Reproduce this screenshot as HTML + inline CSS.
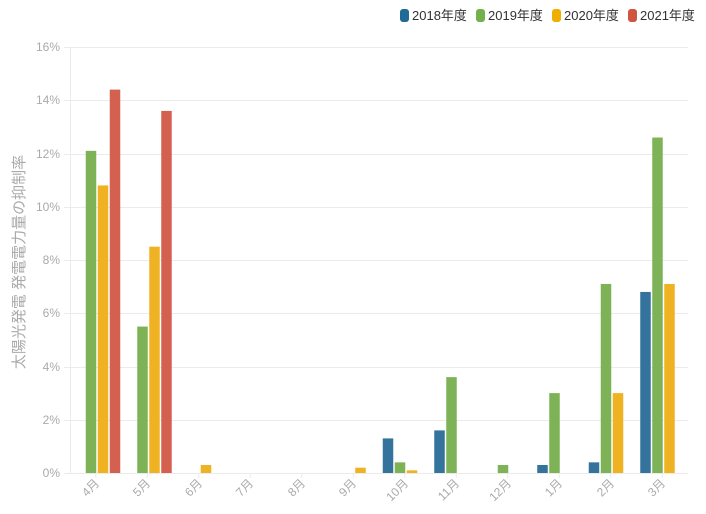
<!DOCTYPE html><html><head><meta charset="utf-8"><style>body{margin:0;background:#fff}svg{font-family:"Liberation Sans","Noto Sans CJK JP",sans-serif}</style></head><body>
<svg width="706" height="509" xmlns="http://www.w3.org/2000/svg">
<g stroke="#ebebeb" stroke-width="1">
<line x1="64" x2="688" y1="47.5" y2="47.5"/><line x1="64" x2="688" y1="100.5" y2="100.5"/><line x1="64" x2="688" y1="154.5" y2="154.5"/><line x1="64" x2="688" y1="207.5" y2="207.5"/><line x1="64" x2="688" y1="260.5" y2="260.5"/><line x1="64" x2="688" y1="313.5" y2="313.5"/><line x1="64" x2="688" y1="367.5" y2="367.5"/><line x1="64" x2="688" y1="420.5" y2="420.5"/><line x1="64" x2="688" y1="473.5" y2="473.5"/>
<line x1="70.5" x2="70.5" y1="47" y2="473"/>
<line x1="95.75" x2="95.75" y1="473" y2="478"/><line x1="147.25" x2="147.25" y1="473" y2="478"/><line x1="198.75" x2="198.75" y1="473" y2="478"/><line x1="250.25" x2="250.25" y1="473" y2="478"/><line x1="301.75" x2="301.75" y1="473" y2="478"/><line x1="353.25" x2="353.25" y1="473" y2="478"/><line x1="404.75" x2="404.75" y1="473" y2="478"/><line x1="456.25" x2="456.25" y1="473" y2="478"/><line x1="507.75" x2="507.75" y1="473" y2="478"/><line x1="559.25" x2="559.25" y1="473" y2="478"/><line x1="610.75" x2="610.75" y1="473" y2="478"/><line x1="662.25" x2="662.25" y1="473" y2="478"/>
</g>
<g fill="#aaa" font-size="12" text-anchor="end">
<text x="60" y="51">16%</text><text x="60" y="104">14%</text><text x="60" y="158">12%</text><text x="60" y="211">10%</text><text x="60" y="264">8%</text><text x="60" y="317">6%</text><text x="60" y="371">4%</text><text x="60" y="424">2%</text><text x="60" y="477">0%</text>
</g>
<text transform="translate(24,262) rotate(-90)" fill="#aaa" font-size="15" text-anchor="middle">太陽光発電 発電電力量の抑制率</text>
<g>
<rect x="85.75" y="150.84" width="10.5" height="322.16" fill="#7db356"/>
<rect x="97.75" y="185.45" width="10.5" height="287.55" fill="#efb223"/>
<rect x="109.75" y="89.6" width="10.5" height="383.4" fill="#d46050"/>
<rect x="137.25" y="326.56" width="10.5" height="146.44" fill="#7db356"/>
<rect x="149.25" y="246.69" width="10.5" height="226.31" fill="#efb223"/>
<rect x="161.25" y="110.9" width="10.5" height="362.1" fill="#d46050"/>
<rect x="200.75" y="465.01" width="10.5" height="7.99" fill="#efb223"/>
<rect x="355.25" y="467.67" width="10.5" height="5.33" fill="#efb223"/>
<rect x="382.75" y="438.39" width="10.5" height="34.61" fill="#33739c"/>
<rect x="394.75" y="462.35" width="10.5" height="10.65" fill="#7db356"/>
<rect x="406.75" y="470.34" width="10.5" height="2.66" fill="#efb223"/>
<rect x="434.25" y="430.4" width="10.5" height="42.6" fill="#33739c"/>
<rect x="446.25" y="377.15" width="10.5" height="95.85" fill="#7db356"/>
<rect x="497.75" y="465.01" width="10.5" height="7.99" fill="#7db356"/>
<rect x="537.25" y="465.01" width="10.5" height="7.99" fill="#33739c"/>
<rect x="549.25" y="393.12" width="10.5" height="79.88" fill="#7db356"/>
<rect x="588.75" y="462.35" width="10.5" height="10.65" fill="#33739c"/>
<rect x="600.75" y="283.96" width="10.5" height="189.04" fill="#7db356"/>
<rect x="612.75" y="393.12" width="10.5" height="79.88" fill="#efb223"/>
<rect x="640.25" y="291.95" width="10.5" height="181.05" fill="#33739c"/>
<rect x="652.25" y="137.52" width="10.5" height="335.48" fill="#7db356"/>
<rect x="664.25" y="283.96" width="10.5" height="189.04" fill="#efb223"/>
</g>
<g fill="#aaa" font-size="12" text-anchor="end">
<text transform="translate(100,484) rotate(-45)">4月</text>
<text transform="translate(151,484) rotate(-45)">5月</text>
<text transform="translate(203,484) rotate(-45)">6月</text>
<text transform="translate(254,484) rotate(-45)">7月</text>
<text transform="translate(306,484) rotate(-45)">8月</text>
<text transform="translate(357,484) rotate(-45)">9月</text>
<text transform="translate(409,484) rotate(-45)">10月</text>
<text transform="translate(460,484) rotate(-45)">11月</text>
<text transform="translate(512,484) rotate(-45)">12月</text>
<text transform="translate(563,484) rotate(-45)">1月</text>
<text transform="translate(615,484) rotate(-45)">2月</text>
<text transform="translate(666,484) rotate(-45)">3月</text>
</g>
<g font-size="13" fill="#333">
<rect x="400" y="9" width="9" height="13" rx="3" fill="#1f6b96"/><text x="412" y="20">2018年度</text>
<rect x="476" y="9" width="9" height="13" rx="3" fill="#74b04b"/><text x="488" y="20">2019年度</text>
<rect x="552" y="9" width="9" height="13" rx="3" fill="#f0ae00"/><text x="564" y="20">2020年度</text>
<rect x="628" y="9" width="9" height="13" rx="3" fill="#cf5542"/><text x="640" y="20">2021年度</text>
</g>
</svg></body></html>
